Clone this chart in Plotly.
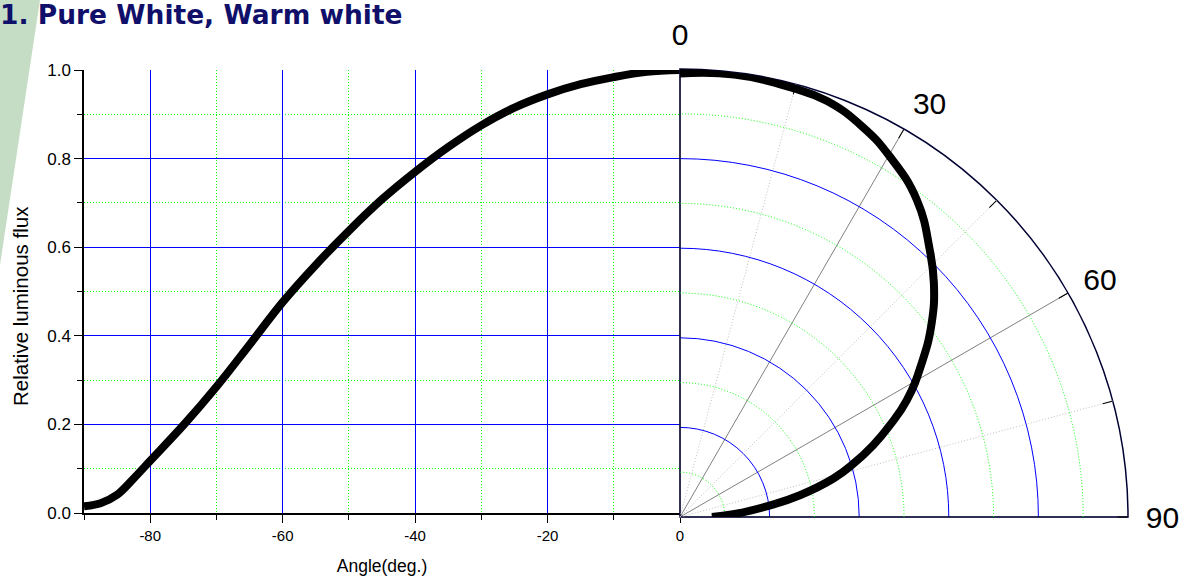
import plotly.graph_objects as go

# ---- data ----
angle_deg = [-90, -87.5, -85, -82.5, -80, -75, -70, -65, -60, -55, -50, -45, -40,
             -35, -30, -25, -20, -15, -10, -5, 0]
rel_flux = [0.015, 0.022, 0.041, 0.078, 0.118, 0.198, 0.285, 0.38, 0.476, 0.56,
            0.637, 0.708, 0.77, 0.826, 0.875, 0.915, 0.945, 0.968, 0.984, 0.996, 1.0]

polar_theta = [0, 7, 14.8, 19.4, 25, 30.2, 36.8, 43.1, 47.4, 52.4, 57.5, 62.8, 66.4,
               69.6, 72.9, 75.9, 79.7, 82.6, 87.1, 90]
polar_r = [0.99, 0.995, 0.99, 0.985, 0.962, 0.931, 0.883, 0.816, 0.77, 0.709, 0.64,
           0.569, 0.511, 0.46, 0.405, 0.353, 0.272, 0.203, 0.119, 0.071]

x_tick_vals = [-80, -60, -40, -20, 0]
x_tick_text = ["-80", "-60", "-40", "-20", "0"]
angular_ticks = [0, 30, 60, 90]
angular_labels = ["0", "30", "60", "90"]
angular_minor = [15, 45, 75]
radial_major = [0.2, 0.4, 0.6, 0.8]
radial_minor = [0.1, 0.3, 0.5, 0.7, 0.9]

x_title = "Angle(deg.)"
y_title = "Relative luminous flux"
chart_title = "1. Pure White, Warm white"

W, H = 1189, 588
FONT = "Liberation Sans, Arial, sans-serif"
NONE = "rgba(0,0,0,0)"
DOT = "1px,2px"

fig = go.Figure()

fig.add_trace(go.Scatter(
    x=angle_deg, y=rel_flux, mode="lines",
    line=dict(color="black", width=8, shape="spline"),
    xaxis="x", yaxis="y", showlegend=False, hoverinfo="skip"))

# invisible copies so that the stacked polar layers (grids) are drawn
for sp in ("polar", "polar2"):
    fig.add_trace(go.Scatterpolar(
        theta=polar_theta, r=polar_r, mode="lines",
        line=dict(color=NONE, width=1),
        subplot=sp, showlegend=False, hoverinfo="skip"))

fig.add_trace(go.Scatterpolar(
    theta=polar_theta, r=polar_r, mode="lines",
    line=dict(color="black", width=8, shape="spline", smoothing=1.3),
    subplot="polar3", showlegend=False, hoverinfo="skip"))

xdom = [84 / W, 680 / W]
ydom = [1 - 513 / H, 1 - 70 / H]
pdom = dict(x=[680 / W, 1128 / W], y=[1 - 517 / H, 1 - 69 / H])

common_ang = dict(rotation=90, direction="clockwise")

fig.update_layout(
    width=W, height=H,
    margin=dict(l=0, r=0, t=0, b=0, autoexpand=False),
    paper_bgcolor="white", plot_bgcolor="white",
    font=dict(family=FONT, color="black", size=14),
    showlegend=False,
    xaxis=dict(
        domain=xdom, range=[-90, 0], tickmode="array", tickvals=x_tick_vals,
        ticktext=x_tick_text, automargin=False,
        ticks="outside", ticklen=8, tickcolor="black",
        showline=True, linecolor="black", linewidth=1.5,
        showgrid=True, gridcolor="#0000ff", gridwidth=1, zeroline=False,
        minor=dict(tickmode="linear", tick0=0, dtick=10, ticks="outside", ticklen=5,
                   tickcolor="black", showgrid=True, gridcolor="#00ff00",
                   griddash=DOT, gridwidth=1),
        tickfont=dict(size=15),
        title=dict(text=x_title, font=dict(size=17.5), standoff=17),
    ),
    yaxis=dict(
        domain=ydom, range=[0, 1], tick0=0, dtick=0.2, tickformat=".1f", automargin=False,
        ticks="outside", ticklen=8, tickcolor="black",
        showline=True, linecolor="black", linewidth=1.5,
        showgrid=True, gridcolor="#0000ff", gridwidth=1, zeroline=False,
        minor=dict(dtick=0.1, ticks="outside", ticklen=5, tickcolor="black",
                   showgrid=True, gridcolor="#00ff00", griddash=DOT, gridwidth=1),
        tickfont=dict(size=17),
    ),
    xaxis2=dict(
        overlaying="x", side="top", anchor="y", range=[-90, 0], tick0=0, dtick=10,
        automargin=False,
        ticks="inside", ticklen=8, tickcolor="black", showticklabels=False,
        showgrid=False, gridcolor=NONE, zeroline=False,
        showline=True, linecolor="black", linewidth=1.5,
    ),
    yaxis2=dict(
        overlaying="y", side="right", anchor="x", range=[0, 1], tick0=0, dtick=0.2,
        automargin=False,
        ticks="inside", ticklen=8, tickcolor="black", showticklabels=False,
        minor=dict(dtick=0.1, ticks="inside", ticklen=5, tickcolor="black",
                   showgrid=False, gridcolor=NONE),
        showgrid=False, gridcolor=NONE, zeroline=False,
        showline=True, linecolor="black", linewidth=1.5,
    ),
    # base layer: white sector, major grids, outer arc, labels
    polar=dict(
        domain=pdom, sector=[0, 90], bgcolor="white", hole=0,
        angularaxis=dict(
            **common_ang, tickmode="array", tickvals=angular_ticks, ticktext=angular_labels,
            showline=True, linecolor="#000033", linewidth=1.5,
            showgrid=True, gridcolor="#808080", gridwidth=1,
            ticks="outside", ticklen=11, tickcolor=NONE,
            tickfont=dict(size=30, family=FONT, color="black"),
        ),
        radialaxis=dict(
            range=[0, 1], tickmode="array", tickvals=radial_major,
            showline=False, showticklabels=False, ticks="",
            showgrid=True, gridcolor="#0000ff", gridwidth=1,
        ),
    ),
    # minor grids
    polar2=dict(
        domain=pdom, sector=[0, 90], bgcolor=NONE, hole=0,
        angularaxis=dict(
            **common_ang, tickmode="array", tickvals=angular_minor,
            showline=False, showgrid=True, gridcolor="#c0c0c0", gridwidth=1, griddash=DOT,
            ticks="", showticklabels=False,
        ),
        radialaxis=dict(
            range=[0, 1], tickmode="array", tickvals=radial_minor,
            showline=False, showticklabels=False, ticks="",
            showgrid=True, gridcolor="#00ff00", gridwidth=1, griddash=DOT,
        ),
    ),
    # top layer: inward ticks and the curve
    polar3=dict(
        domain=pdom, sector=[0, 90], bgcolor=NONE, hole=0,
        angularaxis=dict(
            **common_ang, tickmode="array", tickvals=[15, 30, 45, 60, 75, 90],
            showline=False, showgrid=False, ticks="inside", ticklen=10,
            tickcolor="black", tickwidth=1.2, showticklabels=False,
        ),
        radialaxis=dict(
            range=[0, 1], showline=False, showticklabels=False, ticks="", showgrid=False,
        ),
    ),
    shapes=[dict(
        type="path", xref="paper", yref="paper", layer="below",
        path=f"M 0 1 L {40 / W} 1 L 0 {1 - 265 / H} Z",
        fillcolor="rgb(197,221,197)", line=dict(width=0),
    )],
    annotations=[
        dict(
            text=f"<b>{chart_title}</b>", xref="paper", yref="paper",
            x=0, y=1 - 14 / H, xanchor="left", yanchor="middle", showarrow=False,
            xshift=-2,
            font=dict(family="DejaVu Sans, Verdana, sans-serif", size=26.5, color="#10106a"),
        ),
        dict(
            text=y_title, xref="paper", yref="paper", x=20 / W, y=1 - 306 / H,
            xanchor="center", yanchor="middle", textangle=-90, showarrow=False,
            font=dict(family=FONT, size=20.5, color="black"),
        ),
    ],
)

fig.write_html("out.html", config={"displayModeBar": False},
               post_script="document.body.style.margin='0px';")
